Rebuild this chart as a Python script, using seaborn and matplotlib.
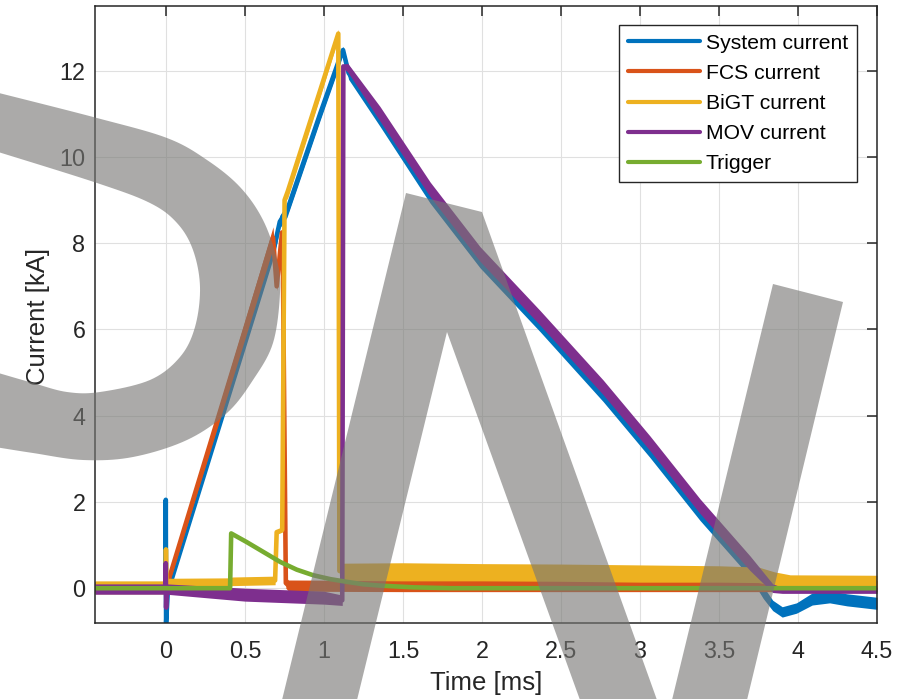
import numpy as np
import pandas as pd
import matplotlib
matplotlib.use("Agg")
import matplotlib.pyplot as plt
import seaborn as sns
from matplotlib.patches import Polygon
from matplotlib.lines import Line2D

# ---------------- data ----------------
SERIES_NAMES = ["System current", "FCS current", "BiGT current", "MOV current", "Trigger"]
SERIES_COLORS = ["#0072BD", "#D95319", "#EDB120", "#7E2F8E", "#77AC30"]

X_TICKS = [0, 0.5, 1, 1.5, 2, 2.5, 3, 3.5, 4, 4.5]
X_TICK_LABELS = ["0", "0.5", "1", "1.5", "2", "2.5", "3", "3.5", "4", "4.5"]
Y_TICKS = [0, 2, 4, 6, 8, 10, 12]
Y_TICK_LABELS = ["0", "2", "4", "6", "8", "10", "12"]

# System current: time [ms], value [kA], noise half-width [kA]
T_SYS = [-0.45, -0.004, -0.002, 0.000, 0.012, 0.69, 0.72, 0.765, 0.975, 1.10, 1.12,
         1.155, 1.354, 1.671, 1.987, 2.367, 2.766, 3.063, 3.38, 3.696, 3.78, 3.84,
         3.90, 3.99, 4.09, 4.20, 4.31, 4.50]
V_SYS = [0.05, 0.05, 2.05, -0.8, 0.0, 8.0, 8.5, 8.75, 11.0, 12.3, 12.48,
         11.95, 10.88, 9.1, 7.6, 6.12, 4.5, 3.2, 1.74, 0.43, -0.1, -0.4,
         -0.55, -0.46, -0.25, -0.2, -0.27, -0.35]
N_SYS = [0.1, 0.1, 0.0, 0.0, 0.2, 0.2, 0.15, 0.15, 0.15, 0.15, 0.08,
         0.15, 0.17, 0.17, 0.17, 0.17, 0.17, 0.17, 0.17, 0.17, 0.14, 0.12,
         0.12, 0.12, 0.14, 0.14, 0.14, 0.14]

# FCS current
T_FCS = [-0.45, -0.003, 0.0, 0.677, 0.700, 0.734, 0.738, 0.758, 0.775, 1.5, 2.5, 3.5, 4.5]
V_FCS = [0.03, 0.03, 0.0, 8.13, 7.0, 8.25, 8.0, 0.12, 0.06, 0.05, 0.05, 0.05, 0.05]
N_FCS = [0.12, 0.12, 0.1, 0.25, 0.1, 0.1, 0.1, 0.12, 0.13, 0.13, 0.13, 0.13, 0.13]

# BiGT current
T_BIGT = [-0.45, -0.004, -0.001, 0.003, 0.40, 0.42, 0.69, 0.70, 0.735, 0.75, 0.77,
          0.975, 1.09, 1.097, 1.115, 1.5, 2.0, 2.5, 3.0, 3.5, 3.75, 3.85, 3.95, 4.5]
V_BIGT = [0.02, 0.02, 0.9, 0.13, 0.14, 0.16, 0.18, 1.3, 1.35, 9.0, 9.2,
          11.54, 12.86, 0.4, 0.38, 0.38, 0.37, 0.36, 0.34, 0.33, 0.31, 0.22, 0.16, 0.15]
N_BIGT = [0.15, 0.15, 0.0, 0.1, 0.1, 0.1, 0.1, 0.05, 0.05, 0.05, 0.15,
          0.15, 0.1, 0.1, 0.2, 0.21, 0.2, 0.2, 0.2, 0.19, 0.18, 0.16, 0.15, 0.15]

# MOV current
T_MOV = [-0.45, -0.004, -0.002, 0.000, 0.003, 0.5, 1.0, 1.115, 1.122, 1.15, 1.354,
         1.671, 1.987, 2.367, 2.766, 3.063, 3.38, 3.696, 3.84, 3.90, 4.5]
V_MOV = [-0.02, -0.02, 0.58, -0.45, -0.02, -0.15, -0.22, -0.28, 12.1, 12.07, 11.0,
         9.25, 7.75, 6.27, 4.66, 3.36, 1.9, 0.58, 0.0, -0.05, -0.05]
N_MOV = [0.12, 0.12, 0.0, 0.0, 0.12, 0.15, 0.15, 0.12, 0.05, 0.1, 0.17,
         0.17, 0.17, 0.17, 0.17, 0.17, 0.17, 0.17, 0.1, 0.07, 0.07]

# Trigger
T_TRIG = [-0.45, 0.405, 0.412, 0.51, 0.616, 0.722, 0.827, 0.932, 1.04, 1.14, 1.25,
          1.355, 1.565, 1.8, 4.5]
V_TRIG = [0.0, 0.0, 1.27, 1.07, 0.84, 0.61, 0.43, 0.30, 0.21, 0.15, 0.09,
          0.06, 0.02, 0.0, 0.0]
N_TRIG = [0.0] * len(T_TRIG)

SERIES_T = [T_SYS, T_FCS, T_BIGT, T_MOV, T_TRIG]
SERIES_V = [V_SYS, V_FCS, V_BIGT, V_MOV, V_TRIG]
SERIES_N = [N_SYS, N_FCS, N_BIGT, N_MOV, N_TRIG]

# ---------------- style ----------------
sns.set_theme(style="white")
plt.rcParams["font.family"] = ["Liberation Sans", "DejaVu Sans"]
TXT = "#262626"

W, H = 915, 699
fig = plt.figure(figsize=(W / 100, H / 100), dpi=100)
ax = fig.add_axes([95 / W, 1 - 622.7 / H, (877 - 95) / W, (622.7 - 6) / H])
ax.set_facecolor("white")

LW = 3.3
for i, (name, col) in enumerate(zip(SERIES_NAMES, SERIES_COLORS)):
    t = np.array(SERIES_T[i], dtype=float)
    v = np.array(SERIES_V[i], dtype=float)
    n = np.array(SERIES_N[i], dtype=float)
    if n.max() > 0:
        ax.fill_between(t, v - n, v + n, color=col, linewidth=0, zorder=2 + i * 0.1)
    df = pd.DataFrame({"t": t, "v": v})
    sns.lineplot(data=df, x="t", y="v", ax=ax, color=col, linewidth=LW,
                 sort=False, estimator=None, zorder=2.05 + i * 0.1, legend=False)

for ln in ax.lines:
    ln.set_solid_joinstyle("round")
    ln.set_solid_capstyle("butt")

ax.set_xlim(-0.45, 4.5)
ax.set_ylim(-0.8, 13.5)
ax.set_xticks(X_TICKS)
ax.set_xticklabels(X_TICK_LABELS)
ax.set_yticks(Y_TICKS)
ax.set_yticklabels(Y_TICK_LABELS)
ax.grid(True, color="#e0e0e0", linewidth=0.8, zorder=0.5)
ax.set_axisbelow(True)
ax.tick_params(direction="in", length=7.2, width=1.1, top=True, right=True,
               labelsize=16.8, colors=TXT)
ax.tick_params(axis="x", pad=12.5)
ax.tick_params(axis="y", pad=7)
for sp in ax.spines.values():
    sp.set_visible(True)
    sp.set_color(TXT)
    sp.set_linewidth(1.1)

ax.set_xlabel("Time [ms]", fontsize=18.5, color=TXT)
ax.set_ylabel("Current [kA]", fontsize=18.5, color=TXT)
ax.xaxis.set_label_coords(0.5, -0.079)
ax.yaxis.set_label_coords(-0.057, 0.497)

handles = [Line2D([0], [0], color=c, linewidth=3.0) for c in SERIES_COLORS]
leg = ax.legend(handles, SERIES_NAMES, loc="upper right", bbox_to_anchor=(0.974, 0.969),
                borderaxespad=0, fontsize=15.2, handlelength=3.4, handletextpad=0.3,
                labelspacing=0.53, borderpad=0.4, fancybox=False, framealpha=1)
leg.get_frame().set_edgecolor(TXT)
leg.get_frame().set_linewidth(1.0)
for t in leg.get_texts():
    t.set_color("black")


# ---------------- watermark overlay (decoration, pixel coords) ----------------
def smooth_chain(pts, k=10):
    p = np.array(pts, dtype=float)
    p = np.vstack([p[0], p, p[-1]])
    out = []
    for j in range(1, len(p) - 2):
        p0, p1, p2, p3 = p[j - 1], p[j], p[j + 1], p[j + 2]
        for s in np.linspace(0, 1, k, endpoint=False):
            s2, s3 = s * s, s * s * s
            out.append(0.5 * ((2 * p1) + (-p0 + p2) * s + (2 * p0 - 5 * p1 + 4 * p2 - p3) * s2
                              + (-p0 + 3 * p1 - 3 * p2 + p3) * s3))
    out.append(p[-2])
    return [tuple(q) for q in out]


ov = fig.add_axes([0, 0, 1, 1], zorder=10)
ov.set_xlim(0, W)
ov.set_ylim(H, 0)
ov.axis("off")
ov.patch.set_alpha(0)
WM_COLOR = (0.47, 0.465, 0.46)
WM_ALPHA = 0.62
d_outer = [(-5, 92), (97, 118), (167, 138), (207, 160), (240, 187), (263, 220), (277, 260),
           (280, 293), (273, 343), (253, 380), (227, 413), (187, 440), (133, 457),
           (83, 460), (33, 453), (-5, 447)]
d_inner = [(-5, 372), (33, 383), (67, 392), (100, 392), (150, 380), (180, 357), (195, 327),
           (200, 287), (193, 250), (177, 223), (150, 203), (97, 183), (-5, 151)]
shapes = [
    smooth_chain(d_outer) + smooth_chain(d_inner),
    [(282, 700), (406, 193), (482, 212), (657, 700), (580, 700), (447, 332), (357, 700)],
    [(672, 700), (773, 284), (843, 302), (747, 700)],
]
for s in shapes:
    ov.add_patch(Polygon(s, closed=True, facecolor=WM_COLOR, edgecolor="none",
                         alpha=WM_ALPHA))

fig.savefig("out.png", dpi=100)
